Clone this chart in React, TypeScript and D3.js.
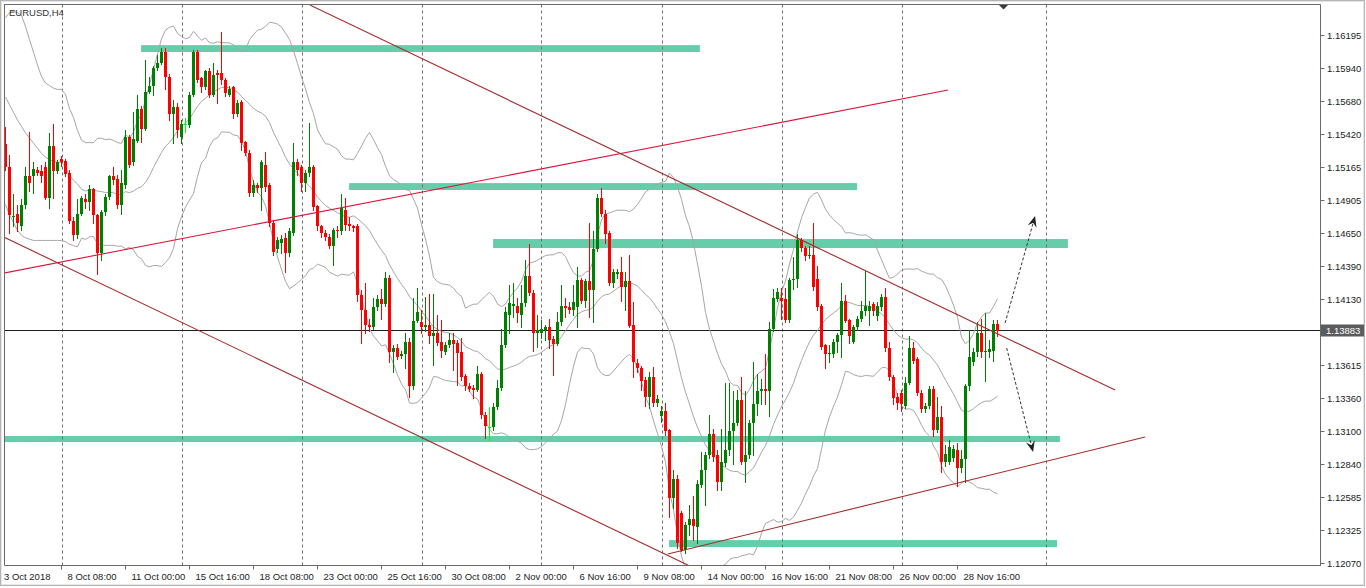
import React from 'react';
import * as d3 from 'd3';

// ---------- DATA (EURUSD H4) ----------
const opens = [
1.1534,1.1516,1.1477,1.1480,1.1470,1.1487,1.1509,1.1509,1.1514,1.1513,
1.1516,1.1492,1.1533,1.1513,1.1523,1.1521,1.1512,1.1474,1.1463,1.1480,
1.1491,1.1489,1.1499,1.1479,1.1449,1.1481,1.1493,1.1509,1.1507,1.1487,
1.1502,1.1540,1.1520,1.1537,1.1562,1.1546,1.1575,1.1580,1.1594,1.1598,
1.1606,1.1587,1.1558,1.1563,1.1540,1.1550,1.1549,1.1573,1.1606,1.1586,
1.1579,1.1591,1.1573,1.1590,1.1590,1.1584,1.1573,1.1579,1.1558,1.1567,
1.1536,1.1527,1.1496,1.1502,1.1500,1.1518,1.1502,1.1473,1.1452,1.1457,
1.1461,1.1449,1.1465,1.1520,1.1516,1.1504,1.1512,1.1516,1.1486,1.1470,
1.1465,1.1462,1.1455,1.1467,1.1466,1.1483,1.1472,1.1470,1.1470,1.1416,
1.1405,1.1393,1.1391,1.1407,1.1413,1.1409,1.1430,1.1372,1.1375,1.1369,
1.1370,1.1380,1.1345,1.1396,1.1395,1.1391,1.1393,1.1384,1.1387,1.1380,
1.1372,1.1377,1.1381,1.1379,1.1372,1.1353,1.1345,1.1344,1.1342,1.1355,
1.1323,1.1313,1.1313,1.1329,1.1344,1.1377,1.1401,1.1408,1.1408,1.1401,
1.1410,1.1431,1.1418,1.1387,1.1387,1.1389,1.1391,1.1382,1.1378,1.1395,
1.1408,1.1407,1.1405,1.1407,1.1428,1.1412,1.1427,1.1420,1.1452,1.1492,
1.1480,1.1465,1.1426,1.1433,1.1434,1.1423,1.1427,1.1393,1.1363,1.1359,
1.1350,1.1337,1.1352,1.1332,1.1322,1.1326,1.1311,1.1258,1.1273,1.1246,
1.1217,1.1237,1.1241,1.1235,1.1268,1.1280,1.1291,1.1308,1.1291,1.1270,
1.1285,1.1295,1.1310,1.1316,1.1334,1.1286,1.1291,1.1316,1.1331,1.1341,
1.1343,1.1341,1.1390,1.1413,1.1414,1.1413,1.1397,1.1428,1.1429,1.1459,
1.1453,1.1447,1.1448,1.1429,1.1408,1.1377,1.1370,1.1370,1.1380,1.1385,
1.1412,1.1397,1.1380,1.1391,1.1398,1.1404,1.1404,1.1409,1.1400,1.1407,
1.1415,1.1375,1.1352,1.1337,1.1340,1.1330,1.1348,1.1375,1.1366,1.1340,
1.1327,1.1330,1.1343,1.1311,1.1321,1.1286,1.1286,1.1289,1.1295,1.1281,
1.1288,1.1345,1.1364,1.1372,1.1387,1.1372,1.1372,1.1373,1.1394];

const highs = [
1.1548,1.1526,1.1495,1.1487,1.1491,1.1516,1.1544,1.1520,1.1516,1.1518,
1.1520,1.1543,1.1550,1.1522,1.1525,1.1523,1.1514,1.1477,1.1491,1.1494,
1.1495,1.1502,1.1500,1.1480,1.1483,1.1495,1.1510,1.1516,1.1510,1.1514,
1.1545,1.1541,1.1559,1.1573,1.1564,1.1600,1.1587,1.1595,1.1604,1.1609,
1.1609,1.1589,1.1569,1.1566,1.1553,1.1555,1.1575,1.1608,1.1608,1.1587,
1.1592,1.1594,1.1598,1.1592,1.1622,1.1586,1.1580,1.1580,1.1569,1.1569,
1.1537,1.1530,1.1506,1.1504,1.1522,1.1528,1.1504,1.1475,1.1462,1.1463,
1.1465,1.1469,1.1535,1.1523,1.1518,1.1514,1.1551,1.1518,1.1487,1.1471,
1.1467,1.1464,1.1469,1.1470,1.1495,1.1492,1.1477,1.1471,1.1472,1.1420,
1.1426,1.1398,1.1414,1.1416,1.1421,1.1434,1.1432,1.1377,1.1378,1.1373,
1.1387,1.1383,1.1414,1.1422,1.1405,1.1415,1.1417,1.1417,1.1401,1.1397,
1.1380,1.1387,1.1387,1.1381,1.1383,1.1355,1.1348,1.1346,1.1361,1.1356,
1.1325,1.1329,1.1332,1.1350,1.1390,1.1407,1.1424,1.1426,1.1414,1.1424,
1.1444,1.1456,1.1420,1.1401,1.1397,1.1393,1.1398,1.1384,1.1403,1.1424,
1.1414,1.1411,1.1424,1.1438,1.1430,1.1429,1.1473,1.1466,1.1495,1.1500,
1.1483,1.1466,1.1437,1.1437,1.1446,1.1434,1.1448,1.1411,1.1366,1.1361,
1.1352,1.1356,1.1360,1.1338,1.1330,1.1332,1.1312,1.1280,1.1276,1.1248,
1.1239,1.1252,1.1259,1.1272,1.1294,1.1294,1.1323,1.1312,1.1295,1.1312,
1.1348,1.1348,1.1341,1.1342,1.1352,1.1341,1.1319,1.1364,1.1355,1.1351,
1.1370,1.1395,1.1421,1.1422,1.1422,1.1422,1.1430,1.1446,1.1464,1.1461,
1.1455,1.1455,1.1473,1.1439,1.1409,1.1378,1.1377,1.1382,1.1387,1.1426,
1.1416,1.1398,1.1393,1.1400,1.1412,1.1435,1.1412,1.1411,1.1411,1.1417,
1.1422,1.1380,1.1354,1.1340,1.1342,1.1352,1.1384,1.1380,1.1368,1.1342,
1.1332,1.1345,1.1345,1.1337,1.1330,1.1299,1.1303,1.1299,1.1301,1.1295,
1.1347,1.1389,1.1375,1.1395,1.1398,1.1402,1.1381,1.1397,1.1397];

const lows = [
1.1514,1.1465,1.1470,1.1466,1.1467,1.1484,1.1498,1.1496,1.1510,1.1505,
1.1491,1.1484,1.1492,1.1512,1.1517,1.1509,1.1473,1.1459,1.1461,1.1479,
1.1484,1.1483,1.1473,1.1433,1.1444,1.1479,1.1491,1.1503,1.1484,1.1480,
1.1500,1.1516,1.1518,1.1536,1.1536,1.1545,1.1574,1.1573,1.1592,1.1597,
1.1577,1.1553,1.1535,1.1540,1.1535,1.1544,1.1548,1.1572,1.1583,1.1575,
1.1577,1.1571,1.1572,1.1566,1.1581,1.1572,1.1572,1.1555,1.1556,1.1530,
1.1526,1.1494,1.1494,1.1497,1.1483,1.1498,1.1470,1.1448,1.1450,1.1449,
1.1434,1.1447,1.1463,1.1510,1.1498,1.1498,1.1509,1.1483,1.1467,1.1462,
1.1459,1.1453,1.1440,1.1462,1.1464,1.1467,1.1467,1.1466,1.1412,1.1379,
1.1387,1.1388,1.1390,1.1405,1.1398,1.1408,1.1364,1.1356,1.1366,1.1367,
1.1359,1.1337,1.1343,1.1395,1.1387,1.1388,1.1379,1.1362,1.1377,1.1368,
1.1370,1.1376,1.1358,1.1346,1.1350,1.1342,1.1341,1.1336,1.1341,1.1320,
1.1305,1.1303,1.1311,1.1327,1.1342,1.1376,1.1387,1.1399,1.1395,1.1391,
1.1408,1.1416,1.1373,1.1376,1.1383,1.1381,1.1375,1.1354,1.1377,1.1393,
1.1399,1.1402,1.1401,1.1391,1.1410,1.1407,1.1399,1.1395,1.1451,1.1478,
1.1457,1.1424,1.1423,1.1430,1.1412,1.1405,1.1391,1.1352,1.1356,1.1342,
1.1330,1.1328,1.1330,1.1330,1.1317,1.1307,1.1243,1.1250,1.1219,1.1216,
1.1215,1.1229,1.1225,1.1223,1.1266,1.1252,1.1289,1.1287,1.1264,1.1264,
1.1283,1.1291,1.1284,1.1315,1.1284,1.1270,1.1289,1.1291,1.1323,1.1331,
1.1331,1.1322,1.1388,1.1412,1.1398,1.1395,1.1395,1.1421,1.1423,1.1451,
1.1444,1.1445,1.1420,1.1405,1.1374,1.1359,1.1364,1.1368,1.1372,1.1368,
1.1395,1.1379,1.1379,1.1389,1.1396,1.1401,1.1393,1.1401,1.1397,1.1405,
1.1373,1.1350,1.1331,1.1327,1.1326,1.1328,1.1347,1.1363,1.1338,1.1325,
1.1325,1.1328,1.1306,1.1309,1.1278,1.1283,1.1284,1.1287,1.1267,1.1278,
1.1270,1.1342,1.1362,1.1369,1.1368,1.1349,1.1368,1.1365,1.1384];

const closes = [
1.1516,1.1479,1.1478,1.1473,1.1487,1.1509,1.1504,1.1515,1.1512,1.1509,
1.1492,1.1533,1.1513,1.1520,1.1520,1.1511,1.1474,1.1463,1.1480,1.1492,
1.1489,1.1499,1.1479,1.1449,1.1481,1.1493,1.1509,1.1506,1.1487,1.1504,
1.1540,1.1518,1.1538,1.1562,1.1546,1.1575,1.1580,1.1594,1.1598,1.1606,
1.1587,1.1558,1.1563,1.1545,1.1550,1.1550,1.1573,1.1606,1.1584,1.1579,
1.1591,1.1573,1.1588,1.1588,1.1584,1.1574,1.1577,1.1558,1.1566,1.1535,
1.1527,1.1496,1.1502,1.1500,1.1520,1.1501,1.1473,1.1450,1.1459,1.1460,
1.1449,1.1466,1.1520,1.1514,1.1504,1.1512,1.1516,1.1485,1.1470,1.1465,
1.1462,1.1455,1.1467,1.1466,1.1484,1.1471,1.1470,1.1469,1.1416,1.1405,
1.1393,1.1391,1.1407,1.1413,1.1409,1.1430,1.1372,1.1375,1.1368,1.1370,
1.1380,1.1345,1.1396,1.1403,1.1391,1.1393,1.1384,1.1387,1.1379,1.1373,
1.1377,1.1381,1.1378,1.1371,1.1352,1.1345,1.1343,1.1342,1.1355,1.1323,
1.1314,1.1313,1.1329,1.1344,1.1377,1.1403,1.1410,1.1409,1.1402,1.1410,
1.1431,1.1418,1.1387,1.1389,1.1390,1.1391,1.1381,1.1378,1.1395,1.1408,
1.1406,1.1405,1.1411,1.1428,1.1412,1.1427,1.1420,1.1452,1.1492,1.1480,
1.1464,1.1426,1.1434,1.1434,1.1423,1.1427,1.1392,1.1364,1.1359,1.1349,
1.1337,1.1352,1.1332,1.1335,1.1326,1.1310,1.1258,1.1273,1.1223,1.1217,
1.1237,1.1241,1.1236,1.1269,1.1280,1.1291,1.1308,1.1290,1.1270,1.1286,
1.1295,1.1310,1.1316,1.1334,1.1286,1.1291,1.1316,1.1331,1.1341,1.1343,
1.1341,1.1390,1.1414,1.1419,1.1412,1.1397,1.1428,1.1429,1.1459,1.1453,
1.1447,1.1448,1.1423,1.1407,1.1376,1.1370,1.1371,1.1380,1.1385,1.1412,
1.1396,1.1384,1.1391,1.1398,1.1404,1.1408,1.1408,1.1404,1.1408,1.1415,
1.1375,1.1352,1.1336,1.1332,1.1331,1.1348,1.1375,1.1365,1.1340,1.1327,
1.1330,1.1343,1.1311,1.1321,1.1286,1.1292,1.1298,1.1296,1.1281,1.1288,
1.1345,1.1368,1.1372,1.1387,1.1372,1.1373,1.1374,1.1394,1.13883];

// Bollinger Bands (20, 2) for the first bars, whose 20-bar window starts off-screen
const bbUpperPre = [1.1633,1.1637,1.1638,1.1637,1.1635,1.1626,1.1616,1.1606,1.1596,1.1587,1.1582,1.1580,1.1578,1.1577,1.1577,1.1573,1.1562,1.1555,1.1545];
const bbMiddlePre = [1.1571,1.1565,1.1559,1.1553,1.1548,1.1543,1.1539,1.1535,1.1531,1.1527,1.1524,1.1522,1.1521,1.1520,1.1520,1.1516,1.1510,1.1506,1.1503];
const bbLowerPre = [1.1487,1.1479,1.1473,1.1467,1.1463,1.1461,1.1460,1.1459,1.1459,1.1459,1.1459,1.1459,1.1459,1.1459,1.1459,1.1458,1.1456,1.1455,1.1454];

const priceTicks = [1.16195,1.15940,1.15680,1.15420,1.15165,1.14905,1.14650,1.14390,1.14130,1.13615,1.13360,1.13100,1.12840,1.12585,1.12325,1.12070];
const currentPrice = 1.13883;
const symbolLabel = 'EURUSD,H4';

const firstTimeLabel = '3 Oct 2018';
const timeLabels = ['8 Oct 08:00','11 Oct 00:00','15 Oct 16:00','18 Oct 08:00','23 Oct 00:00','25 Oct 16:00','30 Oct 08:00','2 Nov 00:00','6 Nov 16:00','9 Nov 08:00','14 Nov 00:00','16 Nov 16:00','21 Nov 08:00','26 Nov 00:00','28 Nov 16:00'];
const timeLabelBars = [14,30,46,62,78,94,110,126,142,158,174,190,206,222,238];
const gridBars = [14,44,74,104,134,164,194,224,260];

// support / resistance zones (bar index from..to, price top..bottom)
const zoneFromBar = [33.9, 85.9, 121.9, -0.4, 165.9];
const zoneToBar = [173.6, 212.9, 265.6, 263.6, 262.9];
const zoneTop = [1.16116, 1.15038, 1.14601, 1.13062, 1.12249];
const zoneBottom = [1.16062, 1.14984, 1.14531, 1.13015, 1.12195];

// trend lines
const trendFromBar = [-0.4, 76.1, -0.4, 165.6];
const trendFromPrice = [1.14335, 1.16429, 1.14616, 1.12140];
const trendToBar = [235.6, 277.4, 171.1, 284.9];
const trendToPrice = [1.15765, 1.13421, 1.12046, 1.13054];
const trendColors = ['#dc143c', '#a52a2a', '#a52a2a', '#a52a2a'];

// projection arrows
const arrowFromBar = [249.9, 250.3];
const arrowFromPrice = [1.13945, 1.13749];
const arrowToBar = [257.4, 256.9];
const arrowToPrice = [1.14781, 1.12937];

// ---------- LAYOUT ----------
const W = 1366;
const H = 588;
const L = 4.5, T = 4.5, R = 1320.5, B = 565.5;
const FONT = "'Liberation Sans', Arial, sans-serif";

export default function App() {
  const x = d3.scaleLinear().domain([0, 248]).range([5.5, 997.5]);
  const y = d3.scaleLinear().domain([1.1207, 1.16195]).range([563, 35]);

  const bb = closes.map((c, i) => {
    if (i < 19) return { u: bbUpperPre[i], m: bbMiddlePre[i], l: bbLowerPre[i] };
    const w = closes.slice(i - 19, i + 1);
    const m = d3.mean(w) as number;
    const sd = Math.sqrt(d3.mean(w, (v) => (v - m) * (v - m)) as number);
    return { u: m + 2 * sd, m, l: m - 2 * sd };
  });
  const line = d3.line<number>().x((_, i) => x(i)).y((v) => y(v));

  const yCur = Math.round(y(currentPrice)) - 0.5;

  return (
    <svg width={W} height={H} style={{ position: 'absolute', left: 0, top: 0, background: '#fff' }} fontFamily={FONT}>
      <defs>
        <clipPath id="plot">
          <rect x={L + 0.5} y={T + 0.5} width={R - L - 1} height={B - T - 1} />
        </clipPath>
      </defs>
      <rect x={0} y={0} width={W} height={H} fill="#fff" />
      {/* window frame */}
      <rect x={0.5} y={0.5} width={W - 2} height={585} fill="none" stroke="#b4b4b4" />
      <rect x={1.5} y={1.5} width={W - 4} height={583} fill="none" stroke="#e6e6e6" />

      <g clipPath="url(#plot)">
        {/* zones (background objects) */}
        {zoneFromBar.map((f, i) => (
          <rect key={'z' + i} x={x(f)} y={y(zoneTop[i])} width={x(zoneToBar[i]) - x(f)} height={y(zoneBottom[i]) - y(zoneTop[i])} fill="#66cdaa" />
        ))}
        {/* grid */}
        {gridBars.map((b) => (
          <line key={'g' + b} x1={Math.round(x(b)) + 0.5} x2={Math.round(x(b)) + 0.5} y1={T} y2={B} stroke="#6f6f6f" strokeDasharray="3,3" />
        ))}
        {/* current price line */}
        <line x1={L} x2={R} y1={yCur} y2={yCur} stroke="#1e1e1e" />
        {/* bollinger */}
        <path d={line(bb.map((d) => d.u)) || ''} fill="none" stroke="#a6a6a6" />
        <path d={line(bb.map((d) => d.m)) || ''} fill="none" stroke="#a6a6a6" />
        <path d={line(bb.map((d) => d.l)) || ''} fill="none" stroke="#a6a6a6" />
        {/* candles */}
        <g shapeRendering="crispEdges">
          {opens.map((o, i) => {
            const c = closes[i];
            const cx = Math.floor(x(i)) + 0.5;
            const yh = Math.round(y(highs[i]));
            const yl = Math.round(y(lows[i]));
            const yo = Math.round(y(o));
            const yc = Math.round(y(c));
            if (Math.abs(o - c) < 1e-7) {
              return (
                <g key={i}>
                  <line x1={cx} x2={cx} y1={yh} y2={yl + 1} stroke="#00ff00" />
                  <line x1={cx - 1.5} x2={cx + 1.5} y1={yo + 0.5} y2={yo + 0.5} stroke="#00ff00" />
                </g>
              );
            }
            const col = c > o ? '#008000' : '#ff0000';
            const top = Math.min(yo, yc);
            const h = Math.max(1, Math.abs(yo - yc));
            return (
              <g key={i}>
                <line x1={cx} x2={cx} y1={yh} y2={yl + 1} stroke={col} />
                <rect x={cx - 1.5} y={top} width={3} height={h} fill={col} />
              </g>
            );
          })}
        </g>
        {/* trend lines */}
        {trendFromBar.map((f, i) => (
          <line key={'t' + i} x1={x(f)} y1={y(trendFromPrice[i])} x2={x(trendToBar[i])} y2={y(trendToPrice[i])} stroke={trendColors[i]} strokeWidth={1.1} />
        ))}
        {/* projection arrows */}
        {arrowFromBar.map((f, i) => {
          const x1 = x(f), y1 = y(arrowFromPrice[i]);
          const x2 = x(arrowToBar[i]), y2 = y(arrowToPrice[i]);
          const len = Math.hypot(x2 - x1, y2 - y1);
          const ux = (x2 - x1) / len, uy = (y2 - y1) / len;
          const px = -uy, py = ux;
          const bx = x2 - ux * 11, by = y2 - uy * 11;
          const nx = x2 - ux * 7, ny = y2 - uy * 7;
          const pts = [
            [x2, y2],
            [bx + px * 4.5, by + py * 4.5],
            [nx, ny],
            [bx - px * 4.5, by - py * 4.5],
          ].map((p) => p.join(',')).join(' ');
          return (
            <g key={'a' + i}>
              <line x1={x1} y1={y1} x2={nx} y2={ny} stroke="#333" strokeDasharray="3,2" />
              <polygon points={pts} fill="#222" />
            </g>
          );
        })}
      </g>

      {/* plot frame */}
      <line x1={L - 0.5} x2={R} y1={T} y2={T} stroke="#6a6a6a" />
      <line x1={L} x2={L} y1={T} y2={B} stroke="#6a6a6a" />
      <line x1={R} x2={R} y1={T} y2={B + 0.5} stroke="#6a6a6a" />
      <line x1={L} x2={R} y1={B} y2={B} stroke="#6a6a6a" />

      {/* chart shift marker */}
      <polygon points="999,5 1008,5 1003.5,9.5" fill="#3a3a3a" />

      {/* symbol */}
      <text x={9} y={16} fontSize={9.5} fill="#333">{symbolLabel}</text>

      {/* price axis */}
      {priceTicks.map((p) => {
        const yy = Math.round(y(p)) + 0.5;
        return (
          <g key={'p' + p}>
            <line x1={R} x2={R + 4} y1={yy} y2={yy} stroke="#6a6a6a" />
            <text x={1327} y={yy + 3.3} fontSize={9.5} fill="#222">{p.toFixed(5)}</text>
          </g>
        );
      })}
      <rect x={1321} y={yCur - 6} width={43} height={12} fill="#5c5c5c" />
      <text x={1326} y={yCur + 3.4} fontSize={9.5} fill="#fff">{currentPrice.toFixed(5)}</text>

      {/* time axis */}
      <text x={4} y={580} fontSize={9.5} fill="#222">{firstTimeLabel}</text>
      {timeLabels.map((t, i) => {
        const xx = Math.floor(x(timeLabelBars[i])) + 0.5;
        return (
          <g key={'tl' + i}>
            <line x1={xx} x2={xx} y1={B} y2={B + 4} stroke="#6a6a6a" />
            <text x={xx + 6} y={580} fontSize={9.5} fill="#222">{t}</text>
          </g>
        );
      })}
    </svg>
  );
}
